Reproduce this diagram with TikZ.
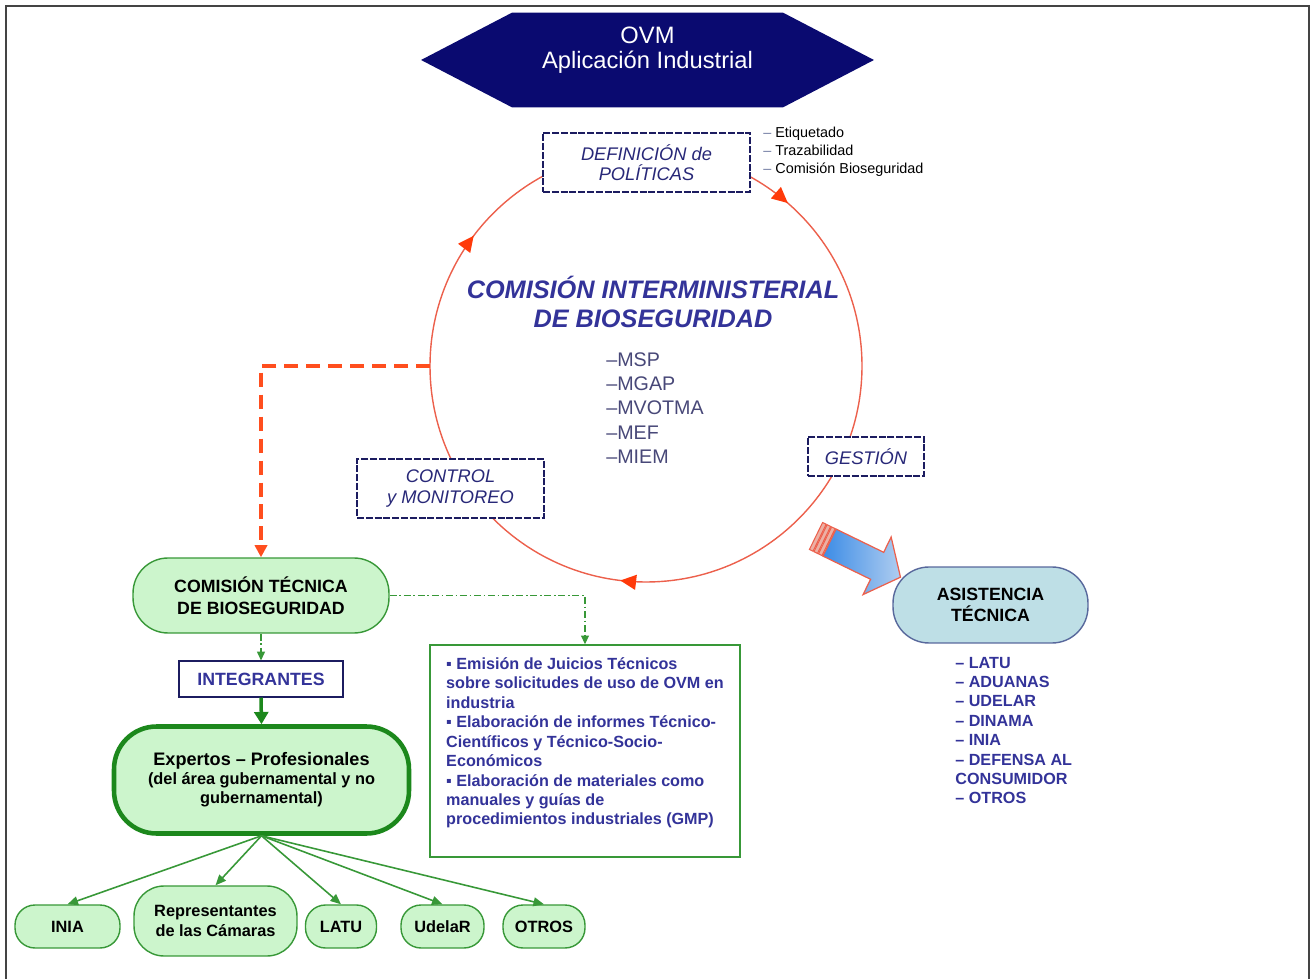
\documentclass[tikz,border=0pt]{standalone}
\usepackage{fontspec}
\setmainfont{Liberation Sans}
\usetikzlibrary{arrows.meta,shapes.symbols,decorations.markings}

\definecolor{navy}{RGB}{10,10,112}
\definecolor{boxblue}{RGB}{28,28,96}
\definecolor{labelblue}{RGB}{40,40,120}
\definecolor{titleblue}{RGB}{51,51,153}
\definecolor{listblue}{RGB}{72,72,120}
\definecolor{dashgray}{RGB}{110,120,160}
\definecolor{ringred}{RGB}{236,96,76}
\definecolor{tipred}{RGB}{255,58,10}
\definecolor{dashred}{RGB}{255,78,30}
\definecolor{mint}{RGB}{204,245,204}
\definecolor{leafgreen}{RGB}{56,152,56}
\definecolor{darkgreen}{RGB}{28,136,28}
\definecolor{paleblue}{RGB}{190,223,230}
\definecolor{slateblue}{RGB}{88,104,156}
\definecolor{shaftblue}{RGB}{60,140,230}
\definecolor{headblue}{RGB}{175,205,240}
\definecolor{stripe}{RGB}{236,176,164}
\definecolor{framegray}{RGB}{68,68,68}

\begin{document}
\begin{tikzpicture}[x=0.02cm, y=-0.02cm,
    policybox/.style={draw=boxblue, line width=1.4pt, dash pattern=on 4pt off 1pt,
        fill=white, text=labelblue, align=center, inner sep=0pt,
        font=\fontsize{10.4}{11.6}\selectfont\itshape},
    greenpill/.style={draw=leafgreen, line width=0.8pt, fill=mint, align=center,
        inner sep=0pt, font=\fontsize{9.3}{11}\selectfont\bfseries},
    bluelist/.style={text=titleblue, align=left, inner sep=0pt,
        font=\fontsize{9.2}{11.05}\selectfont\bfseries},
    branch/.style={draw=leafgreen, line width=0.9pt, -{Triangle[length=6pt,width=5pt]}},
    linkdash/.style={draw=leafgreen, line width=0.7pt,
        dash pattern=on 4pt off 1.5pt on 1pt off 1.5pt, -{Triangle[length=5pt,width=4.5pt]}}
]
\useasboundingbox (0,0) rectangle (1312,979);
\draw[framegray, line width=1.1pt] (6,990) -- (6,6) -- (1309,6) -- (1309,990);

% cabecera
\node[signal, signal to=west and east, signal pointer angle=55, fill=navy,
    minimum width=9.06cm, minimum height=1.9cm, inner sep=0pt, text=white, align=center,
    font=\fontsize{13.5}{14.2}\selectfont] (ovm) at (647.5,60)
    {OVM\\Aplicación Industrial\\\mbox{}};

% ciclo de la comision
\draw[ringred, line width=0.8pt, postaction={decorate}, decoration={markings,
    mark=at position 0.269 with {\arrow[tipred]{Triangle[length=9pt,width=8.5pt]}},
    mark=at position 0.603 with {\arrow[tipred]{Triangle[length=9pt,width=8.5pt]}},
    mark=at position 0.864 with {\arrow[tipred]{Triangle[length=9pt,width=8.5pt]}}}]
    (646,366) circle[radius=216];
\coordinate (ringW) at (430,366);

\node[policybox, minimum width=4.14cm, minimum height=1.18cm] (defpol) at (646.5,162.5)
    {DEFINICIÓN de\\POLÍTICAS};
\node[policybox, minimum width=2.32cm, minimum height=0.78cm] (gestion) at (866,456.5)
    {GESTIÓN};
\node[policybox, minimum width=3.74cm, minimum height=1.18cm] (control) at (450.5,488.5)
    {CONTROL\\y MONITOREO};

\node[anchor=west, align=left, inner sep=0pt, font=\fontsize{8.2}{10.2}\selectfont] (temas) at (763,152)
    {\textcolor{dashgray}{–} Etiquetado\\\textcolor{dashgray}{–} Trazabilidad\\\textcolor{dashgray}{–} Comisión Bioseguridad};

\node[text=titleblue, align=center, inner sep=0pt,
    font=\fontsize{14.4}{17}\selectfont\bfseries\itshape] (cib) at (653,302)
    {COMISIÓN INTERMINISTERIAL\\DE BIOSEGURIDAD};
\node[anchor=west, text=listblue, align=left, inner sep=0pt,
    font=\fontsize{11.2}{13.9}\selectfont] (minist) at (606,408)
    {–MSP\\–MGAP\\–MVOTMA\\–MEF\\–MIEM};

% comision tecnica
\node[greenpill, minimum width=5.12cm, minimum height=1.5cm, rounded corners=0.7cm,
    font=\fontsize{10.1}{12.5}\selectfont\bfseries] (ctb) at (261,595.5)
    {COMISIÓN TÉCNICA\\DE BIOSEGURIDAD};
\node[draw=boxblue, line width=0.6pt, fill=white, text=titleblue, inner sep=0pt,
    minimum width=3.28cm, minimum height=0.72cm, font=\fontsize{10.1}{12}\selectfont\bfseries]
    (integ) at (261,679) {INTEGRANTES};
\node[greenpill, draw=darkgreen, line width=2.6pt, minimum width=5.9cm, minimum height=2.14cm,
    rounded corners=0.85cm, font=\fontsize{9.3}{10.8}\selectfont\bfseries] (expertos) at (261.5,780)
    {{\fontsize{10.3}{12}\selectfont Expertos – Profesionales}\\(del área gubernamental y no\\gubernamental)};

\node[draw=leafgreen, line width=0.8pt, fill=white, minimum width=6.2cm, minimum height=4.24cm,
    bluelist, inner sep=0pt] (funciones) at (585,751)
    {▪ Emisión de Juicios Técnicos\\sobre solicitudes de uso de OVM en\\industria\\
     ▪ Elaboración de informes Técnico-\\Científicos y Técnico-Socio-\\Económicos\\
     ▪ Elaboración de materiales como\\manuales y guías de\\procedimientos industriales (GMP)\\\mbox{}};

% integrantes
\node[greenpill, minimum width=2.1cm, minimum height=0.86cm, rounded corners=0.4cm] (inia) at (67.5,926.5) {INIA};
\node[greenpill, minimum width=3.26cm, minimum height=1.4cm, rounded corners=0.6cm] (repr) at (215.5,921)
    {Representantes\\de las Cámaras};
\node[greenpill, minimum width=1.42cm, minimum height=0.86cm, rounded corners=0.4cm] (latu) at (341,926.5) {LATU};
\node[greenpill, minimum width=1.66cm, minimum height=0.86cm, rounded corners=0.4cm] (udelar) at (442.5,926.5) {UdelaR};
\node[greenpill, minimum width=1.64cm, minimum height=0.86cm, rounded corners=0.4cm] (otros) at (544,926.5) {OTROS};

% asistencia
\node[draw=slateblue, line width=0.8pt, fill=paleblue, minimum width=3.9cm, minimum height=1.52cm,
    rounded corners=0.72cm, align=center, inner sep=0pt,
    font=\fontsize{10.1}{12.2}\selectfont\bfseries] (asist) at (990.5,605)
    {ASISTENCIA\\TÉCNICA};
\node[bluelist, anchor=west] (apoyo) at (955,730.5)
    {– LATU\\– ADUANAS\\– UDELAR\\– DINAMA\\– INIA\\– DEFENSA AL\\CONSUMIDOR\\– OTROS};

% flecha azul
\begin{scope}[shift={(816,536)}, rotate=-26]
  \foreach \s in {0,5,10}
    \draw[ringred, line width=0.6pt, fill=stripe] (\s,-15) rectangle ++(4,30);
  \draw[ringred, line width=0.7pt, left color=shaftblue, right color=headblue]
    (15,-15) -- (68,-15) -- (68,-32) -- (94,0) -- (68,32) -- (68,15) -- (15,15) -- cycle;
\end{scope}

% conectores
\draw[dashred, line width=2.2pt, dash pattern=on 8pt off 4.5pt,
    -{Triangle[length=7pt,width=7pt]}] (ringW) -| (ctb.north);
\draw[linkdash] (ctb.south) -- (integ.north);
\draw[linkdash] (ctb.east) -| (funciones.north);
\draw[draw=darkgreen, line width=2pt, -{Triangle[length=7pt,width=8pt]}] (integ.south) -- (expertos.north);
\draw[branch] (expertos.south) -- (inia.north);
\draw[branch] (expertos.south) -- (repr.north);
\draw[branch] (expertos.south) -- (latu.north);
\draw[branch] (expertos.south) -- (udelar.north);
\draw[branch] (expertos.south) -- (otros.north);
\end{tikzpicture}
\end{document}
